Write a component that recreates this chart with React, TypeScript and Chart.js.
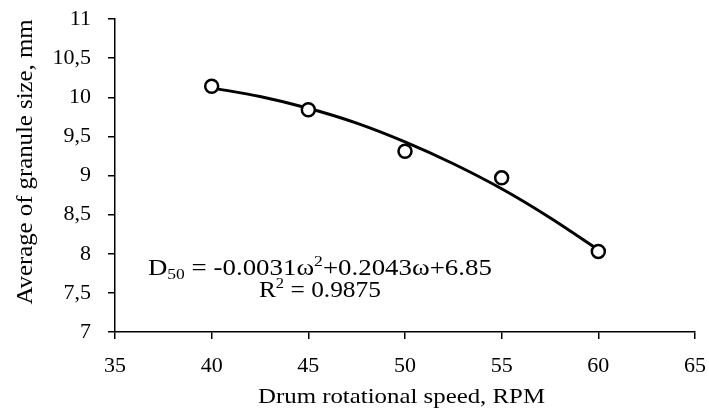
import React, { useEffect, useRef } from "react";
import { Chart, registerables } from "chart.js";

Chart.register(...registerables);

const speeds = [40, 45, 50, 55, 60];
const granuleSizes = [10.14, 9.84, 9.31, 8.97, 8.03];
const trendSpeeds = [40, 42.5, 45, 47.5, 50, 52.5, 55, 57.5, 60];
const trendValues = [10.12, 10.01, 9.86, 9.67, 9.43, 9.15, 8.83, 8.46, 8.05];
const xTitle = "Drum rotational speed, RPM";
const yTitle = "Average of granule size, mm";
const eqLine1 = ["D", "50", " = -0.0031ω", "2", "+0.2043ω+6.85"];
const eqLine2 = ["R", "2", " = 0.9875"];

const FONT = "'Liberation Serif', 'Times New Roman', serif";

type Part = { t: string; f: string; dy: number };

const drawStretched = (
  ctx: CanvasRenderingContext2D,
  parts: Part[],
  cx: number,
  y: number,
  targetW: number
) => {
  let w = 0;
  for (const p of parts) {
    ctx.font = p.f;
    w += ctx.measureText(p.t).width;
  }
  const s = targetW / w;
  ctx.save();
  ctx.translate(cx - targetW / 2, y);
  ctx.scale(s, 1);
  ctx.fillStyle = "#000";
  ctx.textBaseline = "alphabetic";
  ctx.textAlign = "left";
  let x = 0;
  for (const p of parts) {
    ctx.font = p.f;
    ctx.fillText(p.t, x, p.dy);
    x += ctx.measureText(p.t).width;
  }
  ctx.restore();
};

const textPlugin = {
  id: "texts",
  afterDatasetsDraw(chart: any) {
    const { ctx, scales, chartArea, height } = chart;
    const big = `23px ${FONT}`;
    const small = `15px ${FONT}`;
    const cx = scales.x.getPixelForValue(45.6);
    const y1 = scales.y.getPixelForValue(7.73);
    const y2 = scales.y.getPixelForValue(7.45);
    drawStretched(
      ctx,
      [
        { t: eqLine1[0], f: big, dy: 0 },
        { t: eqLine1[1], f: small, dy: 4 },
        { t: eqLine1[2], f: big, dy: 0 },
        { t: eqLine1[3], f: small, dy: -9 },
        { t: eqLine1[4], f: big, dy: 0 },
      ],
      cx,
      y1,
      344
    );
    drawStretched(
      ctx,
      [
        { t: eqLine2[0], f: big, dy: 0 },
        { t: eqLine2[1], f: small, dy: -9 },
        { t: eqLine2[2], f: big, dy: 0 },
      ],
      cx,
      y2,
      122
    );
    // x title
    const xcx = (chartArea.left + chartArea.right) / 2 - 3.5;
    drawStretched(ctx, [{ t: xTitle, f: `21px ${FONT}`, dy: 0 }], xcx, height - 10, 287);
    // y title (rotated)
    ctx.save();
    ctx.translate(32, 162);
    ctx.rotate(-Math.PI / 2);
    drawStretched(ctx, [{ t: yTitle, f: `24px ${FONT}`, dy: 0 }], 0, 0, 285);
    ctx.restore();
  },
};

export default function App() {
  const ref = useRef<HTMLCanvasElement>(null);
  useEffect(() => {
    if (!ref.current) return;
    const chart = new Chart(ref.current, {
      type: "scatter",
      data: {
        datasets: [
          {
            type: "scatter",
            data: speeds.map((x, i) => ({ x, y: granuleSizes[i] })),
            pointRadius: 6.5,
            pointBorderWidth: 2.5,
            pointBorderColor: "#000",
            pointBackgroundColor: "#fff",
            showLine: false,
            order: 0,
          },
          {
            type: "line",
            data: trendSpeeds.map((x, i) => ({ x, y: trendValues[i] })),
            borderColor: "#000",
            borderWidth: 3,
            pointRadius: 0,
            tension: 0.4,
            cubicInterpolationMode: "monotone",
            fill: false,
            order: 1,
          },
        ],
      },
      options: {
        animation: false,
        responsive: false,
        maintainAspectRatio: false,
        layout: { padding: { top: 19, right: 14, left: 0, bottom: 0 } },
        plugins: { legend: { display: false }, tooltip: { enabled: false } },
        scales: {
          x: {
            type: "linear",
            min: 35,
            max: 65,
            afterFit: (s: any) => {
              s.height = 81;
              s.paddingLeft = 0;
              s.paddingRight = 0;
            },
            ticks: {
              stepSize: 5,
              color: "#000",
              padding: 14,
              font: { family: FONT, size: 22 },
            },
            grid: {
              display: true,
              drawOnChartArea: false,
              drawTicks: true,
              tickLength: 7,
              color: "#000",
              lineWidth: 1.5,
            },
            border: { display: true, color: "#000", width: 1.5 },
            title: { display: false },
          },
          y: {
            type: "linear",
            min: 7,
            max: 11,
            afterFit: (s: any) => {
              s.width = 115;
              s.paddingTop = 0;
              s.paddingBottom = 0;
            },
            ticks: {
              stepSize: 0.5,
              color: "#000",
              padding: 17,
              font: { family: FONT, size: 22 },
              callback: (v: any) => String(v).replace(".", ","),
            },
            grid: {
              display: true,
              drawOnChartArea: false,
              drawTicks: true,
              tickLength: 7,
              color: "#000",
              lineWidth: 1.5,
            },
            border: { display: true, color: "#000", width: 1.5 },
            title: { display: false },
          },
        },
      },
      plugins: [textPlugin],
    });
    return () => chart.destroy();
  }, []);
  return (
    <div style={{ position: "absolute", left: 0, top: 0, width: 709, height: 413, background: "#fff" }}>
      <canvas ref={ref} width={709} height={413} style={{ width: 709, height: 413 }} />
    </div>
  );
}
